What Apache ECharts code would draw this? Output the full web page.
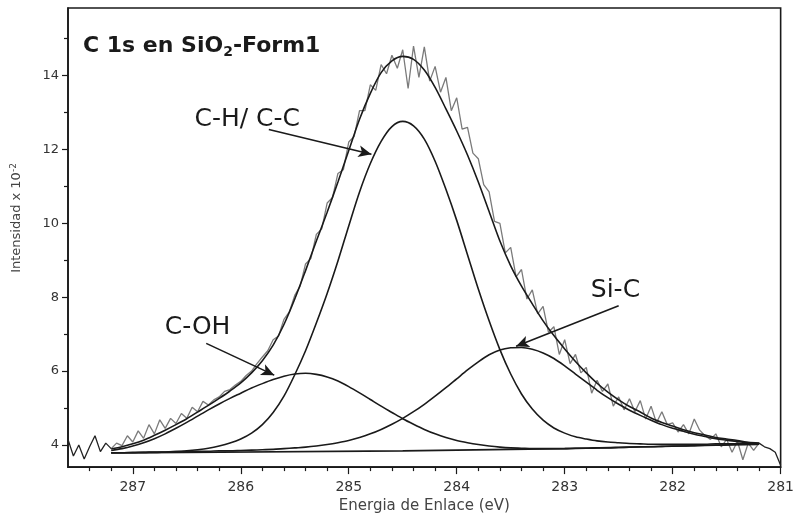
<!DOCTYPE html>
<html>
<head>
<meta charset="utf-8">
<title>C 1s en SiO2-Form1</title>
<script src="https://cdn.jsdelivr.net/npm/echarts@6/dist/echarts.min.js"></script>
<style>
  html, body { margin: 0; padding: 0; background: #fff; }
  #chart { width: 797px; height: 519px; }
</style>
</head>
<body>
<div id="chart"></div>
<script>
// binding energy grid of the fitted curves (eV)
const fitEnergy = [287.2, 287.1, 287.0, 286.9, 286.8, 286.7, 286.6, 286.5, 286.4, 286.3,
  286.2, 286.1, 286.0, 285.9, 285.8, 285.7, 285.6, 285.5, 285.4, 285.3,
  285.2, 285.1, 285.0, 284.9, 284.8, 284.7, 284.6, 284.5, 284.4, 284.3,
  284.2, 284.1, 284.0, 283.9, 283.8, 283.7, 283.6, 283.5, 283.4, 283.3,
  283.2, 283.1, 283.0, 282.9, 282.8, 282.7, 282.6, 282.5, 282.4, 282.3,
  282.2, 282.1, 282.0, 281.9, 281.8, 281.7, 281.6, 281.5, 281.4, 281.3, 281.2];

const cHcC = [3.79, 3.79, 3.79, 3.80, 3.80, 3.81, 3.82, 3.84, 3.87, 3.91,
  3.97, 4.05, 4.16, 4.32, 4.55, 4.88, 5.32, 5.90, 6.55, 7.30,
  8.10, 8.98, 9.93, 10.85, 11.62, 12.22, 12.62, 12.76, 12.64, 12.28,
  11.68, 10.92, 10.08, 9.15, 8.22, 7.36, 6.58, 5.92, 5.38, 4.97,
  4.67, 4.46, 4.32, 4.22, 4.16, 4.11, 4.08, 4.06, 4.04, 4.03,
  4.02, 4.02, 4.02, 4.02, 4.02, 4.02, 4.03, 4.03, 4.03, 4.03, 4.03];

const cOH = [3.85, 3.90, 3.97, 4.06, 4.17, 4.30, 4.45, 4.61, 4.78, 4.95,
  5.11, 5.26, 5.40, 5.54, 5.66, 5.77, 5.86, 5.92, 5.94, 5.91,
  5.84, 5.73, 5.58, 5.41, 5.23, 5.05, 4.88, 4.71, 4.56, 4.42,
  4.30, 4.20, 4.12, 4.06, 4.01, 3.97, 3.94, 3.92, 3.91, 3.90,
  3.90, 3.90, 3.90, 3.91, 3.91, 3.92, 3.92, 3.93, 3.94, 3.95,
  3.95, 3.96, 3.97, 3.97, 3.98, 3.99, 3.99, 4.00, 4.01, 4.01, 4.02];

const siC = [3.79, 3.79, 3.80, 3.80, 3.81, 3.81, 3.82, 3.82, 3.83, 3.83,
  3.84, 3.84, 3.85, 3.86, 3.87, 3.88, 3.90, 3.92, 3.94, 3.97,
  4.01, 4.06, 4.12, 4.20, 4.30, 4.42, 4.56, 4.72, 4.90, 5.10,
  5.32, 5.55, 5.79, 6.03, 6.25, 6.44, 6.57, 6.63, 6.64, 6.59,
  6.49, 6.34, 6.14, 5.92, 5.70, 5.48, 5.28, 5.10, 4.94, 4.80,
  4.67, 4.55, 4.45, 4.37, 4.29, 4.23, 4.17, 4.13, 4.09, 4.06, 4.04];

const envelope = [3.89, 3.95, 4.03, 4.13, 4.26, 4.40, 4.55, 4.71, 4.89, 5.07,
  5.26, 5.46, 5.68, 5.95, 6.28, 6.70, 7.26, 7.95, 8.72, 9.52,
  10.30, 11.12, 11.97, 12.82, 13.52, 14.08, 14.40, 14.52, 14.44, 14.15,
  13.68, 13.10, 12.50, 11.85, 11.12, 10.32, 9.52, 8.85, 8.30, 7.82,
  7.36, 6.96, 6.60, 6.26, 5.95, 5.67, 5.43, 5.22, 5.04, 4.89,
  4.73, 4.61, 4.51, 4.41, 4.33, 4.27, 4.20, 4.16, 4.12, 4.07, 4.05];

// background line [energy, intensity]
const baseline = [[287.2, 3.78], [284.5, 3.84], [283.0, 3.90], [281.2, 4.02]];

// measured spectrum [energy, intensity]
const rawSpectrum = [
  [287.60, 4.15], [287.55, 3.70], [287.50, 4.00], [287.45, 3.62], [287.40, 3.95], [287.35, 4.25], [287.30, 3.82], [287.25, 4.05], [287.20, 3.90],
  [287.15, 4.05], [287.10, 3.98], [287.05, 4.25], [287.00, 4.08], [286.95, 4.38], [286.90, 4.18], [286.85, 4.55], [286.80, 4.30], [286.75, 4.68], [286.70, 4.45],
  [286.65, 4.72], [286.60, 4.58], [286.55, 4.85], [286.50, 4.72], [286.45, 5.02], [286.40, 4.90], [286.35, 5.18], [286.30, 5.08], [286.25, 5.22], [286.20, 5.30],
  [286.15, 5.45], [286.10, 5.50], [286.05, 5.62], [286.00, 5.72], [285.95, 5.88], [285.90, 6.00], [285.85, 6.20], [285.80, 6.38], [285.75, 6.55], [285.70, 6.85],
  [285.65, 6.95], [285.60, 7.40], [285.55, 7.60], [285.50, 8.05], [285.45, 8.30], [285.40, 8.90], [285.35, 9.05], [285.30, 9.70], [285.25, 9.85], [285.20, 10.55],
  [285.15, 10.70], [285.10, 11.35], [285.05, 11.45], [285.00, 12.20], [284.95, 12.35], [284.90, 13.05], [284.85, 13.05], [284.80, 13.75], [284.75, 13.60], [284.70, 14.30],
  [284.65, 14.05], [284.60, 14.55], [284.55, 14.20], [284.50, 14.70], [284.45, 13.65], [284.40, 14.80], [284.35, 13.95], [284.30, 14.78], [284.25, 13.85], [284.20, 14.25],
  [284.15, 13.55], [284.10, 13.95], [284.05, 13.05], [284.00, 13.40], [283.95, 12.55], [283.90, 12.60], [283.85, 11.90], [283.80, 11.75], [283.75, 11.05], [283.70, 10.85],
  [283.65, 10.05], [283.60, 10.00], [283.55, 9.20], [283.50, 9.35], [283.45, 8.55], [283.40, 8.75], [283.35, 7.95], [283.30, 8.20], [283.25, 7.55], [283.20, 7.75],
  [283.15, 7.05], [283.10, 7.20], [283.05, 6.45], [283.00, 6.85], [282.95, 6.20], [282.90, 6.45], [282.85, 5.95], [282.80, 6.10], [282.75, 5.40], [282.70, 5.75],
  [282.65, 5.45], [282.60, 5.65], [282.55, 5.05], [282.50, 5.30], [282.45, 4.95], [282.40, 5.25], [282.35, 4.90], [282.30, 5.20], [282.25, 4.70], [282.20, 5.05],
  [282.15, 4.60], [282.10, 4.90], [282.05, 4.55], [282.00, 4.60], [281.95, 4.35], [281.90, 4.55], [281.85, 4.30], [281.80, 4.70], [281.75, 4.40], [281.70, 4.25],
  [281.65, 4.15], [281.60, 4.30], [281.55, 3.95], [281.50, 4.15], [281.45, 3.80], [281.40, 4.10], [281.35, 3.60], [281.30, 4.05], [281.25, 3.85], [281.20, 4.05],
  [281.15, 3.95], [281.10, 3.90], [281.05, 3.80], [281.00, 3.45]
];

// peak labels and arrows, in data coordinates
const peakLabels = [
  { name: "C-H/ C-C", coord: [285.94, 12.8] },
  { name: "C-OH", coord: [286.40, 7.18] },
  { name: "Si-C", coord: [282.53, 8.18] }
];
const arrows = [
  [[285.74, 12.54], [284.79, 11.87]],
  [[286.32, 6.75], [285.69, 5.89]],
  [[282.50, 7.77], [283.45, 6.67]]
];

const xTicks = [281, 282, 283, 284, 285, 286, 287];
const xMinorTicks = [281.2, 281.4, 281.6, 281.8, 282.2, 282.4, 282.6, 282.8,
  283.2, 283.4, 283.6, 283.8, 284.2, 284.4, 284.6, 284.8, 285.2, 285.4, 285.6, 285.8,
  286.2, 286.4, 286.6, 286.8, 287.2, 287.4];
const yTicks = [4, 6, 8, 10, 12, 14];
const yMinorTicks = [5, 7, 9, 11, 13, 15];

const font = "DejaVu Sans";
const ink = "#1a1a1a";

function fitLine(values) {
  return fitEnergy.map((e, i) => [e, values[i]]);
}

function curve(name, data) {
  return {
    name: name,
    type: "line",
    data: data,
    showSymbol: false,
    smooth: 0.3,
    lineStyle: { color: ink, width: 1.6 },
    z: 3,
    silent: true
  };
}

let dom = document.getElementById("chart");
let myChart = echarts.init(dom, null, { renderer: "canvas" });

let option = {
  animation: false,
  backgroundColor: "#fff",
  title: {
    text: "{b|C 1s en SiO}{sub|2}{b|-Form1}",
    left: 78,
    top: 28,
    textStyle: {
      rich: {
        b: { fontFamily: font, fontSize: 22, fontWeight: "bold", color: ink, lineHeight: 26 },
        sub: { fontFamily: font, fontSize: 14, fontWeight: "bold", color: ink, lineHeight: 14, verticalAlign: "bottom" }
      }
    }
  },
  grid: {
    left: 68,
    right: 14,
    top: 8,
    bottom: 50,
    show: true,
    borderColor: ink,
    borderWidth: 1.6
  },
  graphic: [
    {
      type: "text",
      x: 17,
      y: 218,
      rotation: Math.PI / 2,
      style: {
        text: "{a|Intensidad x 10}{s|-2}",
        align: "center",
        verticalAlign: "middle",
        rich: {
          a: { fontFamily: font, fontSize: 13, fill: "#444", lineHeight: 16 },
          s: { fontFamily: font, fontSize: 9, fill: "#444", lineHeight: 9, verticalAlign: "top" }
        }
      }
    }
  ],
  visualMap: {
    show: false,
    type: "piecewise",
    seriesIndex: 0,
    dimension: 0,
    pieces: [
      { lt: 281.2, color: "#222" },
      { gte: 281.2, lte: 287.2, color: "#7a7a7a" },
      { gt: 287.2, color: "#222" }
    ]
  },
  xAxis: [
    {
      type: "value",
      inverse: true,
      min: 281,
      max: 287.6,
      position: "bottom",
      name: "Energia de Enlace (eV)",
      nameLocation: "middle",
      nameGap: 31,
      nameTextStyle: { fontFamily: font, fontSize: 15, color: "#444" },
      axisLine: { show: true, onZero: false, lineStyle: { color: ink, width: 1.6 } },
      axisTick: { show: true, customValues: xTicks, length: 7, lineStyle: { color: ink, width: 1.2 } },
      axisLabel: { customValues: xTicks, margin: 13, fontFamily: font, fontSize: 14, color: "#333" },
      splitLine: { show: false }
    },
    {
      type: "value",
      inverse: true,
      min: 281,
      max: 287.6,
      position: "bottom",
      axisLine: { show: false },
      axisTick: { show: true, customValues: xMinorTicks, length: 4, lineStyle: { color: ink, width: 1.2 } },
      axisLabel: { show: false },
      splitLine: { show: false }
    }
  ],
  yAxis: [
    {
      type: "value",
      min: 3.4,
      max: 15.83,
      position: "left",
      axisLine: { show: true, onZero: false, lineStyle: { color: ink, width: 1.6 } },
      axisTick: { show: true, customValues: yTicks, length: 6, lineStyle: { color: ink, width: 1.2 } },
      axisLabel: {
        customValues: yTicks,
        margin: 9,
        fontFamily: font,
        fontSize: 13,
        color: "#333",
        verticalAlign: "middle",
        padding: [0, 0, 10, 0]
      },
      splitLine: { show: false }
    },
    {
      type: "value",
      min: 3.4,
      max: 15.83,
      position: "left",
      axisLine: { show: false },
      axisTick: { show: true, customValues: yMinorTicks, length: 4, lineStyle: { color: ink, width: 1.2 } },
      axisLabel: { show: false },
      splitLine: { show: false }
    }
  ],
  series: [
    {
      name: "Datos",
      type: "line",
      data: rawSpectrum,
      showSymbol: false,
      lineStyle: { width: 1.3 },
      z: 2,
      silent: true
    },
    {
      name: "Fondo",
      type: "line",
      data: baseline,
      showSymbol: false,
      lineStyle: { color: ink, width: 1.6 },
      z: 3,
      silent: true
    },
    curve("C-H/ C-C", fitLine(cHcC)),
    curve("C-OH", fitLine(cOH)),
    curve("Si-C", fitLine(siC)),
    Object.assign(curve("Envolvente", fitLine(envelope)), {
      markLine: {
        silent: true,
        symbol: ["none", "arrow"],
        symbolSize: [9, 13],
        label: { show: false },
        lineStyle: { color: ink, width: 1.6, type: "solid" },
        data: arrows.map((a) => [{ coord: a[0] }, { coord: a[1] }])
      },
      markPoint: {
        silent: true,
        symbol: "rect",
        symbolSize: 1,
        itemStyle: { color: "rgba(0,0,0,0)" },
        label: {
          show: true,
          position: "inside",
          formatter: "{b}",
          fontFamily: font,
          fontSize: 25,
          color: ink
        },
        data: peakLabels.map((p) => ({ name: p.name, coord: p.coord }))
      }
    })
  ]
};

myChart.setOption(option);
window.addEventListener("resize", myChart.resize);
</script>
</body>
</html>
